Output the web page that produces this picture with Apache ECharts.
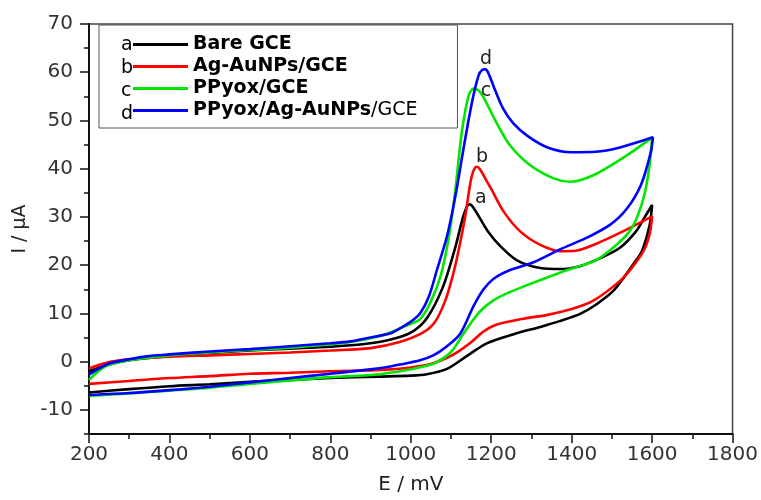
<!DOCTYPE html>
<html>
<head>
<meta charset="utf-8">
<script src="https://cdn.jsdelivr.net/npm/echarts@6/dist/echarts.min.js"></script>
<style>
  html, body { margin: 0; padding: 0; background: #fff; }
  #chart { width: 761px; height: 500px; }
</style>
</head>
<body>
<div id="chart"></div>
<script>
// Cyclic voltammograms: each curve is the forward scan (200 -> 1600 mV)
// followed by the reverse scan back to 200 mV, as [E (mV), I (uA)] pairs.
const seriesNames = ['Bare GCE', 'Ag-AuNPs/GCE', 'PPyox/GCE', 'PPyox/Ag-AuNPs/GCE'];
const curveLetters = ['a', 'b', 'c', 'd'];
const curveColors = ['#000000', '#ff0000', '#00e600', '#0000ff'];

const bareGCE = [
  [200, -2.0], [250, -0.6], [300, 0.3], [400, 1.2], [500, 1.8], [600, 2.3], [700, 2.7],
  [800, 3.1], [880, 3.6], [950, 4.6], [1000, 6.0], [1040, 9.0], [1080, 15.5], [1110, 23.5],
  [1130, 30.0], [1140, 32.2], [1147, 32.6], [1155, 32.0], [1170, 30.0], [1192, 27.0],
  [1222, 24.0], [1264, 21.0], [1322, 19.4], [1372, 19.2], [1420, 19.8], [1470, 21.4],
  [1520, 23.6], [1560, 27.0], [1582, 30.0], [1600, 32.5],
  [1594, 28.4], [1575, 23.0], [1554, 20.3], [1504, 14.7], [1460, 11.8], [1421, 9.9],
  [1370, 8.4], [1322, 7.2], [1256, 5.7], [1189, 3.8], [1140, 1.2], [1090, -1.5],
  [1040, -2.6], [1000, -2.9], [920, -3.1], [800, -3.4], [700, -3.8], [600, -4.2],
  [500, -4.7], [400, -5.1], [300, -5.7], [200, -6.4]
];

const agAuGCE = [
  [200, -1.4], [250, -0.1], [300, 0.5], [400, 1.0], [500, 1.3], [600, 1.6], [700, 1.9],
  [800, 2.3], [900, 2.8], [970, 4.0], [1030, 6.0], [1060, 8.2], [1085, 12.5], [1105, 18.0],
  [1120, 23.5], [1135, 30.0], [1148, 37.0], [1156, 39.6], [1164, 40.4], [1172, 39.9],
  [1185, 38.0], [1200, 35.8], [1231, 31.1], [1272, 27.0], [1322, 24.2], [1372, 22.9],
  [1410, 23.0], [1460, 24.4], [1530, 27.1], [1600, 30.1],
  [1594, 26.5], [1579, 23.0], [1550, 19.5], [1521, 16.8], [1455, 12.7], [1400, 10.9],
  [1340, 9.7], [1280, 8.9], [1214, 7.7], [1180, 6.2], [1150, 4.0], [1120, 2.2],
  [1090, 0.8], [1050, -0.5], [1000, -1.2], [950, -1.6], [900, -1.8], [800, -2.0],
  [700, -2.3], [600, -2.5], [500, -3.0], [400, -3.4], [300, -4.0], [200, -4.6]
];

const ppyoxGCE = [
  [200, -3.8], [240, -1.0], [300, 0.3], [400, 1.3], [500, 1.9], [600, 2.4], [700, 2.9],
  [800, 3.6], [880, 4.5], [940, 5.8], [990, 7.5], [1023, 8.8], [1050, 12.5], [1075, 18.0],
  [1095, 26.0], [1110, 35.0], [1127, 47.6], [1144, 55.2], [1156, 56.6], [1167, 56.3],
  [1178, 55.2], [1195, 52.5], [1214, 49.4], [1247, 44.8], [1297, 40.7], [1355, 38.0],
  [1397, 37.3], [1455, 38.7], [1538, 42.8], [1600, 46.5],
  [1594, 41.0], [1582, 35.0], [1563, 30.0], [1540, 26.6], [1500, 23.4], [1460, 21.0],
  [1420, 19.8], [1372, 18.5], [1297, 16.1], [1240, 14.2], [1200, 12.4], [1170, 10.2],
  [1131, 5.8], [1100, 2.0], [1060, -0.3], [1032, -1.0], [980, -1.9], [924, -2.6],
  [850, -3.0], [800, -3.2], [700, -3.9], [600, -4.6], [500, -5.4], [400, -6.0],
  [300, -6.6], [200, -7.1]
];

const ppyoxAgAuGCE = [
  [200, -2.7], [250, -0.4], [300, 0.5], [343, 1.1], [400, 1.5], [500, 2.1], [600, 2.6],
  [700, 3.2], [800, 3.8], [850, 4.2], [900, 5.0], [950, 5.9], [975, 7.0], [1000, 8.3],
  [1023, 10.0], [1045, 13.5], [1065, 19.0], [1090, 26.0], [1110, 33.9], [1131, 44.1],
  [1152, 53.7], [1168, 59.2], [1178, 60.5], [1186, 60.6], [1195, 59.4], [1210, 56.2],
  [1230, 52.4], [1255, 49.4], [1290, 46.8], [1340, 44.4], [1400, 43.4], [1460, 43.5],
  [1520, 44.4], [1602, 46.5],
  [1597, 43.5], [1573, 36.8], [1538, 31.8], [1496, 28.4], [1438, 25.7], [1372, 23.3],
  [1305, 20.6], [1247, 19.0], [1206, 17.2], [1181, 15.0], [1156, 11.5], [1123, 5.8],
  [1090, 3.2], [1056, 1.3], [1023, 0.3], [973, -0.6], [949, -1.0], [900, -1.6],
  [800, -2.5], [700, -3.4], [600, -4.3], [500, -5.2], [400, -5.9], [300, -6.5], [200, -6.9]
];

const curves = [bareGCE, agAuGCE, ppyoxGCE, ppyoxAgAuGCE];

// Where each curve letter sits next to its anodic peak
const letterAnchors = [[1174, 34.0], [1177, 42.5], [1187, 56.2], [1187, 62.8]];

// Axis ticks
const xTicks = { min: 200, max: 1800, step: 200 };
const yMajorTicks = [-10, 0, 10, 20, 30, 40, 50, 60, 70];
const yMinorTicks = [-15, -5, 5, 15, 25, 35, 45, 55, 65];

const FONT = 'DejaVu Sans';
const chart = echarts.init(document.getElementById('chart'), null, { renderer: 'canvas' });

const legendTop = 25;
const legendRow = 23;
const legendFirstCenter = 45;

const series = curves.map((data, i) => ({
  name: seriesNames[i],
  type: 'line',
  data: data,
  smooth: 0.3,
  symbol: 'none',
  lineStyle: { color: curveColors[i], width: 2.6 },
  itemStyle: { color: curveColors[i] },
  z: 2 + i,
  markPoint: {
    symbol: 'circle',
    symbolSize: 1,
    itemStyle: { color: 'rgba(0,0,0,0)' },
    label: {
      show: true,
      position: 'inside',
      formatter: curveLetters[i],
      fontFamily: FONT,
      fontSize: 19,
      color: '#222'
    },
    data: [{ coord: letterAnchors[i] }]
  }
}));

const option = {
  animation: false,
  backgroundColor: '#ffffff',
  grid: {
    left: 89, right: 28, top: 24, bottom: 62,
    show: true, borderColor: '#444', borderWidth: 1.5, backgroundColor: 'transparent'
  },
  xAxis: {
    type: 'value',
    min: xTicks.min, max: xTicks.max, interval: xTicks.step,
    name: 'E / mV',
    nameLocation: 'middle',
    nameGap: 41,
    nameTextStyle: { fontFamily: FONT, fontSize: 20, color: '#222' },
    axisLine: { show: true, onZero: false, lineStyle: { color: '#111', width: 2 } },
    axisTick: { show: true, inside: false, length: 9, lineStyle: { color: '#111', width: 1.5 } },
    minorTick: { show: true, splitNumber: 2, length: 5, lineStyle: { color: '#111', width: 1.5 } },
    axisLabel: {
      margin: 11, fontFamily: FONT, fontSize: 20, color: '#333',
      formatter: v => String(v)
    },
    splitLine: { show: false }
  },
  yAxis: [
    {
      type: 'value',
      min: -15, max: 70, interval: 5,
      name: 'I / \u00b5A',
      nameLocation: 'middle',
      nameGap: 56,
      nameTextStyle: { fontFamily: FONT, fontSize: 19, color: '#222' },
      axisLine: { show: true, onZero: false, lineStyle: { color: '#111', width: 2 } },
      axisTick: {
        show: true, length: 9, customValues: yMajorTicks,
        lineStyle: { color: '#111', width: 1.5 }
      },
      axisLabel: {
        margin: 16, fontFamily: FONT, fontSize: 20, color: '#333',
        customValues: yMajorTicks
      },
      splitLine: { show: false }
    },
    {
      type: 'value',
      min: -15, max: 70, interval: 5,
      position: 'left',
      axisLine: { show: false },
      axisTick: {
        show: true, length: 5, customValues: yMinorTicks,
        lineStyle: { color: '#111', width: 1.5 }
      },
      axisLabel: { show: false },
      splitLine: { show: false }
    }
  ],
  legend: {
    orient: 'vertical',
    left: 99,
    top: legendTop,
    padding: [10, 40, 8, 34],
    itemWidth: 55,
    itemHeight: 14,
    itemGap: 3,
    borderColor: '#555',
    borderWidth: 1,
    backgroundColor: '#fff',
    icon: 'path://M0,5.6 L55,5.6 L55,8.4 L0,8.4 Z',
    data: seriesNames,
    formatter: name => name === 'PPyox/Ag-AuNPs/GCE'
      ? '{b|PPyox/Ag-AuNPs}{n|/GCE}'
      : '{b|' + name + '}',
    textStyle: {
      color: '#000',
      rich: {
        b: { fontFamily: FONT, fontWeight: 'bold', fontSize: 19, lineHeight: 20, color: '#000' },
        n: { fontFamily: FONT, fontWeight: 'normal', fontSize: 19, lineHeight: 20, color: '#000' }
      }
    }
  },
  graphic: curveLetters.map((ch, i) => ({
    type: 'text',
    x: 121,
    y: legendFirstCenter + i * legendRow,
    z: 100,
    style: { text: ch, font: '19px "' + FONT + '"', fill: '#000', verticalAlign: 'middle' }
  })),
  series: series
};

chart.setOption(option);
</script>
</body>
</html>
